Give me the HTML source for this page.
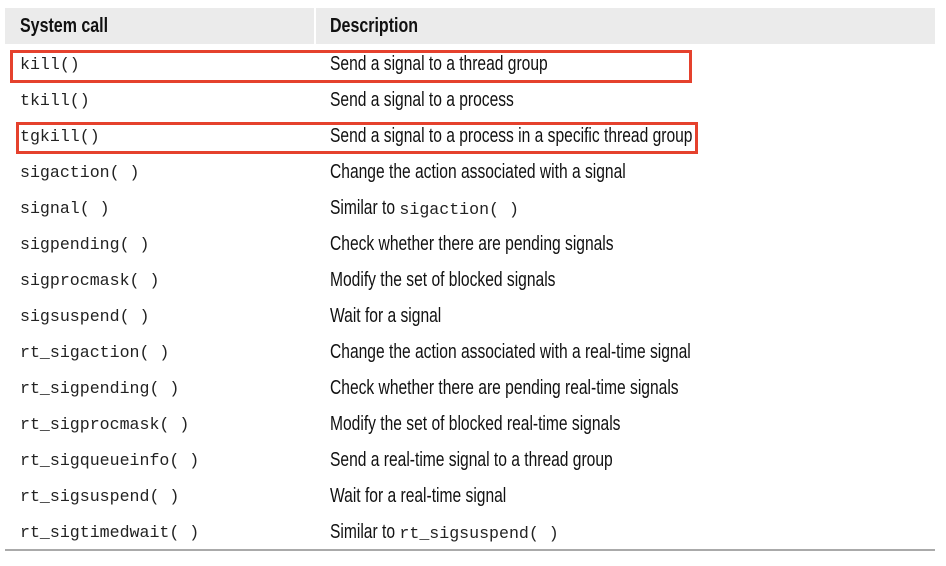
<!DOCTYPE html>
<html><head><meta charset="utf-8"><style>
body{margin:0;width:946px;height:566px;background:#fff;position:relative;overflow:hidden}
.hd{position:absolute;left:5px;top:8px;width:930px;height:36px;background:#ebebeb}
.dv{position:absolute;left:314px;top:8px;width:2px;height:36px;background:#fff}
.h{position:absolute;top:15px;font:bold 20px "Liberation Sans",sans-serif;color:#111;transform:scaleX(0.8);transform-origin:0 0}
.c{position:absolute;left:20px;font:16.6px "Liberation Mono",monospace;color:#222;white-space:pre}
.d{position:absolute;left:330px;font:20px "Liberation Sans",sans-serif;color:#111;white-space:pre;transform:scaleX(0.78);transform-origin:0 0}
.d code{font:16.6px "Liberation Mono",monospace;display:inline-block;transform:scaleX(1.282);transform-origin:0 0;color:#222}
.r{position:absolute;border:3px solid #e5412d;box-sizing:border-box}
.bl{position:absolute;left:5px;top:549px;width:930px;height:2px;background:#aaa}
</style></head><body>
<div class="hd"></div><div class="dv"></div>
<div class="h" style="left:20px">System call</div>
<div class="h" style="left:330px">Description</div>
<div class="c" style="top:55px">kill()</div><div class="d" style="top:53px">Send a signal to a thread group</div>
<div class="c" style="top:91px">tkill()</div><div class="d" style="top:89px">Send a signal to a process</div>
<div class="c" style="top:127px">tgkill()</div><div class="d" style="top:125px">Send a signal to a process in a specific thread group</div>
<div class="c" style="top:163px">sigaction( )</div><div class="d" style="top:161px">Change the action associated with a signal</div>
<div class="c" style="top:199px">signal( )</div><div class="d" style="top:197px">Similar to <code>sigaction( )</code></div>
<div class="c" style="top:235px">sigpending( )</div><div class="d" style="top:233px">Check whether there are pending signals</div>
<div class="c" style="top:271px">sigprocmask( )</div><div class="d" style="top:269px">Modify the set of blocked signals</div>
<div class="c" style="top:307px">sigsuspend( )</div><div class="d" style="top:305px">Wait for a signal</div>
<div class="c" style="top:343px">rt_sigaction( )</div><div class="d" style="top:341px">Change the action associated with a real-time signal</div>
<div class="c" style="top:379px">rt_sigpending( )</div><div class="d" style="top:377px">Check whether there are pending real-time signals</div>
<div class="c" style="top:415px">rt_sigprocmask( )</div><div class="d" style="top:413px">Modify the set of blocked real-time signals</div>
<div class="c" style="top:451px">rt_sigqueueinfo( )</div><div class="d" style="top:449px">Send a real-time signal to a thread group</div>
<div class="c" style="top:487px">rt_sigsuspend( )</div><div class="d" style="top:485px">Wait for a real-time signal</div>
<div class="c" style="top:523px">rt_sigtimedwait( )</div><div class="d" style="top:521px">Similar to <code>rt_sigsuspend( )</code></div>
<div class="r" style="left:10px;top:50px;width:682px;height:33px"></div>
<div class="r" style="left:16px;top:122px;width:682px;height:32px"></div>
<div class="bl"></div>
</body></html>
